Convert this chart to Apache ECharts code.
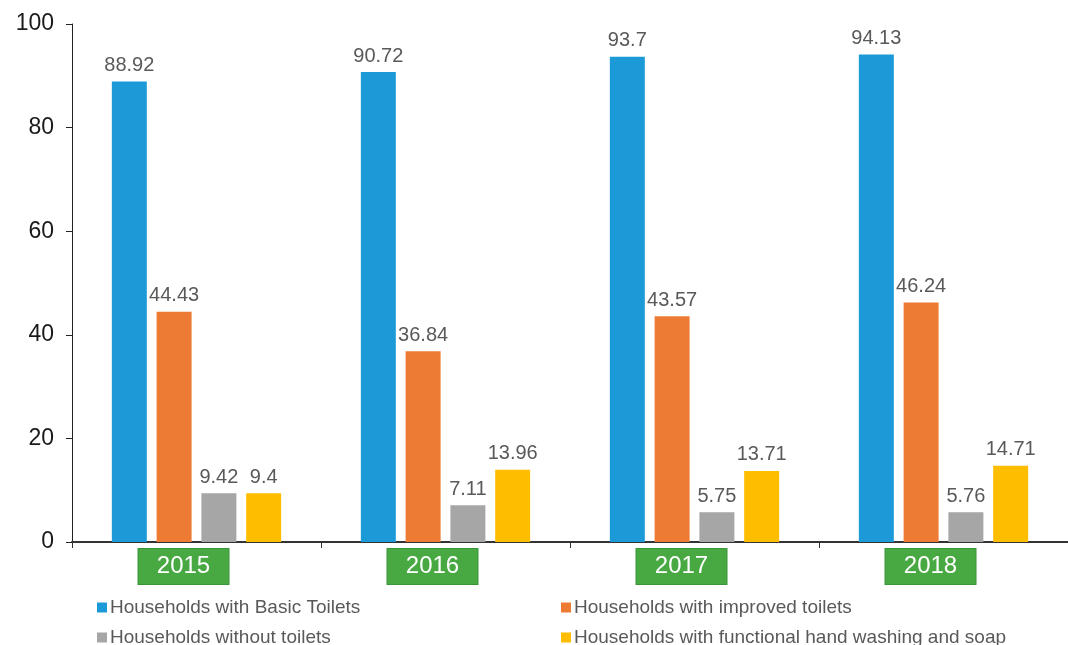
<!DOCTYPE html>
<html>
<head>
<meta charset="utf-8">
<script src="https://cdn.jsdelivr.net/npm/echarts@6/dist/echarts.min.js"></script>
<style>
  html, body { margin: 0; padding: 0; background: #ffffff; }
  #chart { width: 1068px; height: 645px; }
</style>
</head>
<body>
<div id="chart"></div>
<script>
// Household sanitation indicators by year (%)
const years = ['2015', '2016', '2017', '2018'];
const basicToilets = [88.92, 90.72, 93.7, 94.13];
const improvedToilets = [44.43, 36.84, 43.57, 46.24];
const withoutToilets = [9.42, 7.11, 5.75, 5.76];
const handWashing = [9.4, 13.96, 13.71, 14.71];
const seriesNames = [
  'Households with Basic Toilets',
  'Households with improved toilets',
  'Households without toilets',
  'Households with functional hand washing and soap'
];
const yTicks = [0, 20, 40, 60, 80, 100];

const colors = ['#1b9ad7', '#ee7b33', '#a6a6a6', '#ffbd00'];
const font = 'Liberation Sans, Arial, sans-serif';

const chart = echarts.init(document.getElementById('chart'));

function barSeries(name, data, color) {
  return {
    name: name,
    type: 'bar',
    data: data,
    barGap: '28%',
    barCategoryGap: '32%',
    itemStyle: { color: color },
    label: {
      show: true,
      position: 'top',
      distance: 6,
      color: '#595959',
      fontSize: 20,
      fontFamily: font
    }
  };
}

function legendColumn(names, left) {
  return {
    data: names,
    orient: 'vertical',
    left: left, top: 593,
    height: 80,
    itemWidth: 10, itemHeight: 10, itemGap: 11,
    icon: 'rect',
    textStyle: { color: '#595959', fontSize: 19, fontFamily: font, padding: [0, 0, 0, -2] }
  };
}

chart.setOption({
  animation: false,
  backgroundColor: '#ffffff',
  color: colors,
  grid: { left: 72, top: 24, width: 1008, height: 518, containLabel: false },
  legend: [
    legendColumn([seriesNames[0], seriesNames[2]], 92),
    legendColumn([seriesNames[1], seriesNames[3]], 556)
  ],
  xAxis: {
    type: 'category',
    data: years,
    axisLine: { lineStyle: { color: '#333333', width: 2 } },
    axisTick: { show: true, length: 6, inside: false, lineStyle: { color: '#333333' } },
    axisLabel: {
      margin: 7,
      interval: 0,
      formatter: function (v) { return '{box|' + v + '}{gap|}'; },
      rich: {
        box: {
          color: '#ffffff',
          fontSize: 24,
          fontFamily: font,
          backgroundColor: '#48a942',
          borderColor: '#3b963a',
          borderWidth: 1,
          width: 90,
          height: 35,
          align: 'center',
          verticalAlign: 'middle',
          lineHeight: 35
        },
        gap: { width: 26, height: 35 }
      }
    }
  },
  yAxis: {
    type: 'value',
    min: yTicks[0],
    max: yTicks[yTicks.length - 1],
    interval: yTicks[1] - yTicks[0],
    axisLine: { show: true, lineStyle: { color: '#222222', width: 1 } },
    axisTick: { show: true, length: 6, lineStyle: { color: '#222222' } },
    splitLine: { show: false },
    axisLabel: { color: '#1a1a1a', fontSize: 23, fontFamily: font, margin: 18 }
  },
  series: [
    barSeries(seriesNames[0], basicToilets, colors[0]),
    barSeries(seriesNames[1], improvedToilets, colors[1]),
    barSeries(seriesNames[2], withoutToilets, colors[2]),
    barSeries(seriesNames[3], handWashing, colors[3])
  ]
});
</script>
</body>
</html>
